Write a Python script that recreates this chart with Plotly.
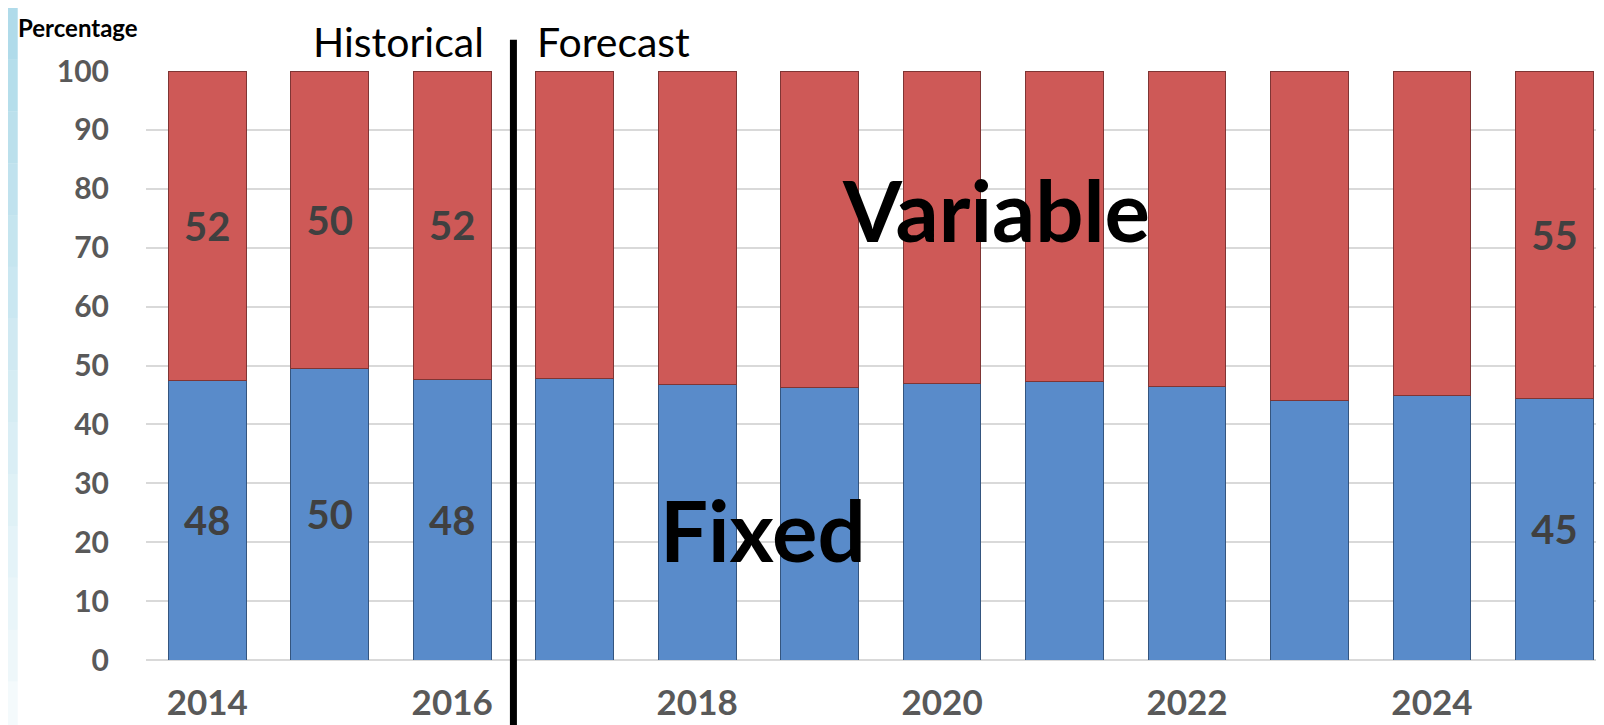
import plotly.graph_objects as go

years = [2014, 2015, 2016, 2017, 2018, 2019, 2020, 2021, 2022, 2023, 2024, 2025]
fixed = [47.5, 49.5, 47.7, 47.8, 46.8, 46.3, 47.0, 47.3, 46.4, 44.0, 44.9, 44.4]
variable = [round(100 - v, 1) for v in fixed]
fixed_labels = ["48", "50", "48", "", "", "", "", "", "", "", "", "45"]
variable_labels = ["52", "50", "52", "", "", "", "", "", "", "", "", "55"]
tick_years = [2014, 2016, 2018, 2020, 2022, 2024]
y_ticks = [0, 10, 20, 30, 40, 50, 60, 70, 80, 90, 100]

BLUE = "#598BCA"
RED = "#CE5957"
FONT = "Lato"
LABEL_COLOR = "#404040"
AXIS_COLOR = "#595959"

fig = go.Figure()
fig.add_trace(go.Bar(
    x=years, y=fixed, name="Fixed", width=0.635,
    marker=dict(color=BLUE, line=dict(color="#34557F", width=1)),
    text=fixed_labels, textposition="inside", insidetextanchor="middle",
    textangle=0, constraintext="none",
    textfont=dict(family=FONT, size=40, color=LABEL_COLOR, weight="bold"),
    hoverinfo="skip",
))
fig.add_trace(go.Bar(
    x=years, y=variable, name="Variable", width=0.635,
    marker=dict(color=RED, line=dict(color="#7F3534", width=1)),
    text=variable_labels, textposition="inside", insidetextanchor="middle",
    textangle=0, constraintext="none",
    textfont=dict(family=FONT, size=40, color=LABEL_COLOR, weight="bold"),
    hoverinfo="skip",
))

fig.update_layout(
    barmode="stack",
    width=1604, height=725,
    margin=dict(l=138, r=0, t=63, b=73),
    paper_bgcolor="white", plot_bgcolor="white",
    showlegend=False,
    font=dict(family=FONT),
    xaxis=dict(
        range=[2013.5, 2025.47],
        tickmode="array", tickvals=tick_years, ticktext=[str(y) for y in tick_years],
        tickfont=dict(family=FONT, size=35, color=AXIS_COLOR, weight="bold"),
        showgrid=False, zeroline=False, showline=False, ticks="",
        ticklabelstandoff=19,
    ),
    yaxis=dict(
        range=[0, 100],
        tickmode="array", tickvals=y_ticks,
        tickfont=dict(family=FONT, size=30, color=AXIS_COLOR, weight="bold"),
        showgrid=True, gridcolor="#D9D9D9", gridwidth=1.5,
        zeroline=True, zerolinecolor="#D9D9D9", zerolinewidth=1.5,
        showline=False, ticks="",
        ticklabelstandoff=36,
    ),
)

# divider between historical and forecast
fig.add_shape(type="line", xref="x", yref="paper",
              x0=2016.5, x1=2016.5, y0=-0.13, y1=1.053,
              line=dict(color="black", width=7))

# decorative pale blue strip at the left edge, fading downward
n_steps = 14
top, bottom = 1.107, -0.124
step = (top - bottom) / n_steps
for i in range(n_steps):
    op = 0.6 * (1 - i / n_steps) + 0.05
    fig.add_shape(type="rect", xref="paper", yref="paper",
                  x0=-0.0945, x1=-0.0875,
                  y0=top - i * step, y1=top - (i + 1) * step,
                  fillcolor="#86C8DE", opacity=op, line=dict(width=0), layer="below")

fig.add_annotation(text="<b>Percentage</b>", xref="paper", yref="paper",
                   x=-0.0885, y=1.102, xanchor="left", yanchor="top", showarrow=False,
                   font=dict(family=FONT, size=24, color="black"))
fig.add_annotation(text="Historical", xref="x", yref="paper",
                   x=2016.28, y=1.05, xanchor="right", yanchor="middle", showarrow=False,
                   font=dict(family=FONT, size=41, color="black"))
fig.add_annotation(text="Forecast", xref="x", yref="paper",
                   x=2016.68, y=1.05, xanchor="left", yanchor="middle", showarrow=False,
                   font=dict(family=FONT, size=41, color="black"))
fig.add_annotation(text="<b>Variable</b>", xref="x", yref="y",
                   x=2020.44, y=76.5, xanchor="center", yanchor="middle", showarrow=False,
                   font=dict(family=FONT, size=85, color="black"))
fig.add_annotation(text="<b>Fixed</b>", xref="x", yref="y",
                   x=2018.54, y=22.3, xanchor="center", yanchor="middle", showarrow=False,
                   font=dict(family=FONT, size=85, color="black"))

fig.write_html("out.html")
